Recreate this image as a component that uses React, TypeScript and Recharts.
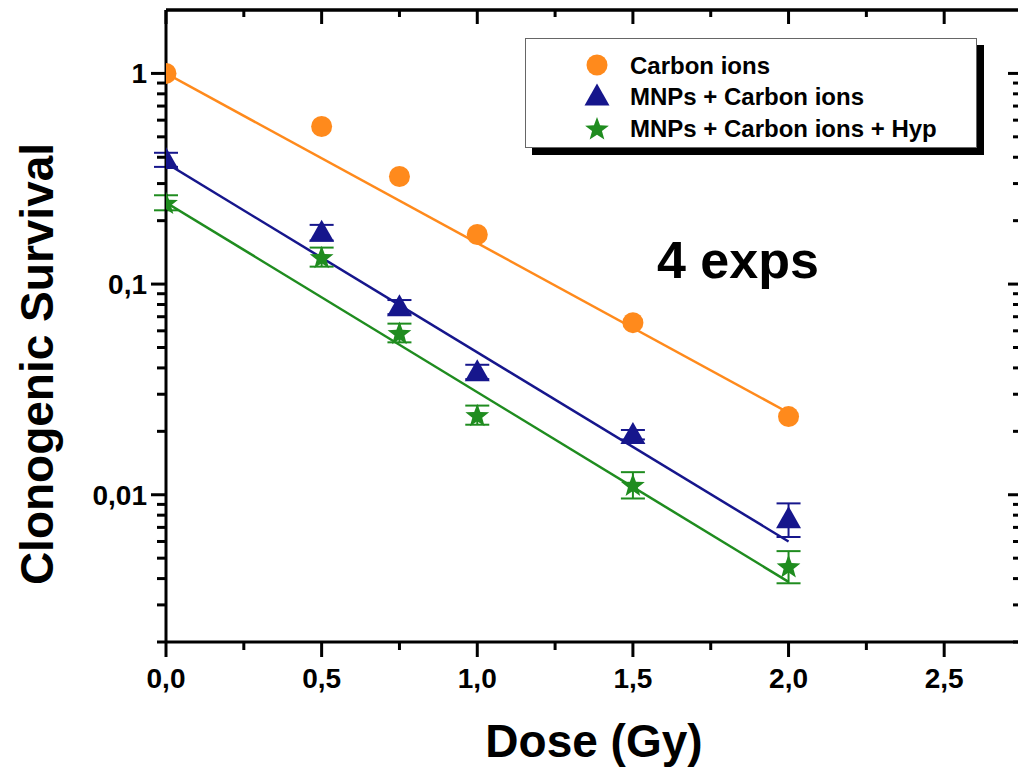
import React from 'react';
import { ComposedChart, Line, Scatter, XAxis, YAxis, ErrorBar, Legend, ReferenceLine } from 'recharts';

const FONT = '"Liberation Sans", Arial, Helvetica, sans-serif';
const ORANGE = '#ff8a1c';
const BLUE = '#16168c';
const GREEN = '#1f8c1f';

// ---- data ----
const doses = [0, 0.5, 0.75, 1.0, 1.5, 2.0];
const carbonIons = [1.0, 0.56, 0.324, 0.172, 0.0656, 0.0235];
const mnpsCarbon = [0.39, 0.176, 0.078, 0.0384, 0.0193, 0.0077];
const mnpsCarbonErr = [0.03, 0.015, 0.006, 0.003, 0.001, 0.0014];
const mnpsHyp = [0.244, 0.135, 0.0589, 0.024, 0.0112, 0.0046];
const mnpsHypErr = [0.02, 0.014, 0.006, 0.0025, 0.0016, 0.0008];

const fitDoses = [0, 2];
const carbonFit = [1.0, 0.0245];
const mnpsCarbonFit = [0.375, 0.006];
const mnpsHypFit = [0.244, 0.00386];

const seriesNames = ['Carbon ions', 'MNPs + Carbon ions', 'MNPs + Carbon ions + Hyp'];

const xMajorTicks = [0, 0.5, 1, 1.5, 2, 2.5];
const xTickLabels = ['0,0', '0,5', '1,0', '1,5', '2,0', '2,5'];
const xMinorTicks = [0.25, 0.75, 1.25, 1.75, 2.25];
const yMajorTicks = [0.01, 0.1, 1];
const yTickLabels = ['0,01', '0,1', '1'];
const yMinorTicks = [
  0.002, 0.003, 0.004, 0.005, 0.006, 0.007, 0.008, 0.009,
  0.02, 0.03, 0.04, 0.05, 0.06, 0.07, 0.08, 0.09,
  0.2, 0.3, 0.4, 0.5, 0.6, 0.7, 0.8, 0.9,
];
const xDomain = [0, 2.75];
const yDomain = [0.002, 2];
const expText = '4 exps';
const xTitle = 'Dose (Gy)';
const yTitle = 'Clonogenic Survival';

// ---- derived tables ----
const carbonData = doses.map((d, i) => ({ x: d, y: carbonIons[i] }));
const mkErr = (ys: number[], errs: number[]) => doses.map((d, i) => ({ x: d, y: ys[i], err: errs[i] }));
const mnpsData = mkErr(mnpsCarbon, mnpsCarbonErr);
const hypData = mkErr(mnpsHyp, mnpsHypErr);
const mkFit = (ys: number[]) => fitDoses.map((d, i) => ({ x: d, y: ys[i] }));
const xTicksAll = [...xMajorTicks, ...xMinorTicks].sort((a, b) => a - b);
const yTicksAll = [...yMajorTicks, ...yMinorTicks].sort((a, b) => a - b);

const findIdx = (v: number, arr: number[]) =>
  arr.findIndex((m) => (m === 0 ? Math.abs(v) < 1e-9 : Math.abs(m - v) <= 1e-6 * Math.abs(m)));

const textStyle = { fontFamily: FONT, fontWeight: 700 as const, fill: '#000' };

// ---- markers ----
const circlePath = (cx: number, cy: number) => <circle cx={cx} cy={cy} r={10.5} fill={ORANGE} />;
const trianglePath = (cx: number, cy: number) => (
  <polygon points={`${cx},${cy - 12.5} ${cx - 12.5},${cy + 9.5} ${cx + 12.5},${cy + 9.5}`} fill={BLUE} />
);
const starPath = (cx: number, cy: number) => {
  const pts: string[] = [];
  for (let k = 0; k < 10; k++) {
    const r = k % 2 === 0 ? 12.5 : 5.2;
    const a = -Math.PI / 2 + (k * Math.PI) / 5;
    pts.push(`${cx + r * Math.cos(a)},${cy + 1.5 + r * Math.sin(a)}`);
  }
  return <polygon points={pts.join(' ')} fill={GREEN} />;
};

const CircleShape = (p: any) => <g>{circlePath(p.cx, p.cy)}</g>;
const TriangleShape = (p: any) => <g>{trianglePath(p.cx, p.cy)}</g>;
const StarShape = (p: any) => <g>{starPath(p.cx, p.cy)}</g>;

// ---- ticks ----
const BottomTick = (p: any) => {
  const i = findIdx(p.payload.value, xMajorTicks);
  const major = i >= 0;
  return (
    <g>
      <line x1={p.x} y1={p.y} x2={p.x} y2={p.y + (major ? 15 : 8)} stroke="#000" strokeWidth={3} />
      {major && (
        <text x={p.x} y={p.y + 46} textAnchor="middle" fontSize={28} style={textStyle}>
          {xTickLabels[i]}
        </text>
      )}
    </g>
  );
};
const TopTick = (p: any) => {
  const major = findIdx(p.payload.value, xMajorTicks) >= 0;
  return <line x1={p.x} y1={p.y} x2={p.x} y2={p.y + (major ? 14 : 7)} stroke="#000" strokeWidth={3} />;
};
// tick marks + labels of the left axis (outward)
const LeftTick = (p: any) => {
  const i = findIdx(p.payload.value, yMajorTicks);
  const major = i >= 0;
  const len = major ? 15 : 9;
  return (
    <g>
      <rect x={p.x - len} y={p.y - 1.5} width={len} height={3} fill="#000" />
      <text x={p.x - 19} y={p.y + 10} textAnchor="end" fontSize={28} style={textStyle}>
        {major ? yTickLabels[i] : '\u00a0'}
      </text>
    </g>
  );
};
const RightTick = (p: any) => {
  const major = findIdx(p.payload.value, yMajorTicks) >= 0;
  return <line x1={p.x} y1={p.y} x2={p.x - (major ? 14 : 9)} y2={p.y} stroke="#000" strokeWidth={3} />;
};

// ---- titles ----
const YTitleLabel = (p: any) => {
  const vb = p.viewBox || { x: 0, y: 0, width: 0, height: 0 };
  const x = vb.x + 53;
  const y = vb.y + vb.height / 2 + 38;
  return (
    <text x={x} y={y} transform={`rotate(-90 ${x} ${y})`} textAnchor="middle" fontSize={46} style={textStyle}>
      {yTitle}
    </text>
  );
};
const XTitleLabel = (p: any) => {
  const vb = p.viewBox || { x: 0, y: 0, width: 0, height: 0 };
  return (
    <text x={vb.x + vb.width / 2} y={vb.y + 115} textAnchor="middle" fontSize={46} style={textStyle}>
      {xTitle}
    </text>
  );
};

// ---- legend ----
const LegendBox = () => {
  const markers = [circlePath, trianglePath, starPath];
  const rowsY = [26, 57, 89];
  return (
    <div
      style={{
        width: 452,
        height: 110,
        boxSizing: 'border-box',
        border: '1.5px solid #666',
        background: '#fff',
        boxShadow: '7px 7px 0 0 #000',
      }}
    >
      <svg width={449} height={107} style={{ display: 'block' }}>
        {seriesNames.map((n, i) => (
          <g key={n}>
            {markers[i](71, rowsY[i])}
            <text x={104} y={rowsY[i] + 8.5} fontSize={24} style={textStyle}>
              {n}
            </text>
          </g>
        ))}
      </svg>
    </div>
  );
};

const axisLineStyle = { stroke: '#000', strokeWidth: 3 };

export default function App() {
  return (
    <div style={{ position: 'absolute', left: 0, top: 0, width: 1018, height: 773, overflow: 'hidden', background: '#fff' }}>
      <ComposedChart width={1030} height={773} margin={{ top: 9, right: 7, bottom: 0, left: 0 }}>
        <XAxis
          dataKey="x"
          type="number"
          domain={xDomain}
          allowDataOverflow
          ticks={xTicksAll}
          interval={0}
          tick={BottomTick}
          tickLine={false}
          tickSize={0}
          tickMargin={0}
          height={131}
          axisLine={axisLineStyle}
          label={{ value: xTitle, content: XTitleLabel }}
        />
        <XAxis
          xAxisId="top"
          orientation="top"
          dataKey="x"
          type="number"
          domain={xDomain}
          allowDataOverflow
          ticks={xTicksAll}
          interval={0}
          tick={TopTick}
          tickLine={false}
          tickSize={0}
          tickMargin={0}
          height={1}
          axisLine={axisLineStyle}
        />
        <YAxis
          dataKey="y"
          type="number"
          scale="log"
          domain={yDomain}
          allowDataOverflow
          ticks={yTicksAll}
          interval={0}
          tick={LeftTick}
          tickLine={false}
          tickSize={0}
          tickMargin={0}
          width={166}
          axisLine={axisLineStyle}
          label={{ value: yTitle, content: YTitleLabel }}
        />
        <YAxis
          yAxisId="right"
          orientation="right"
          dataKey="y"
          type="number"
          scale="log"
          domain={yDomain}
          allowDataOverflow
          ticks={yTicksAll}
          interval={0}
          tick={RightTick}
          tickLine={false}
          tickSize={0}
          tickMargin={0}
          width={1}
          axisLine={axisLineStyle}
        />
        <ReferenceLine y={yDomain[1]} stroke="#000" strokeWidth={3} ifOverflow="visible" />
        <Legend
          layout="vertical"
          align="center"
          verticalAlign="middle"
          content={LegendBox}
          wrapperStyle={{ left: 525, top: 38, width: 460, height: 120 }}
        />
        <Line data={mkFit(carbonFit)} dataKey="y" type="linear" stroke={ORANGE} strokeWidth={2.5} dot={false} activeDot={false} legendType="none" isAnimationActive={false} />
        <Line data={mkFit(mnpsCarbonFit)} dataKey="y" type="linear" stroke={BLUE} strokeWidth={2.5} dot={false} activeDot={false} legendType="none" isAnimationActive={false} />
        <Line data={mkFit(mnpsHypFit)} dataKey="y" type="linear" stroke={GREEN} strokeWidth={2.5} dot={false} activeDot={false} legendType="none" isAnimationActive={false} />
        <Scatter name={seriesNames[0]} data={carbonData} dataKey="y" shape={CircleShape} isAnimationActive={false} />
        <Scatter name={seriesNames[1]} data={mnpsData} dataKey="y" shape={TriangleShape} isAnimationActive={false}>
          <ErrorBar dataKey="err" direction="y" width={12} stroke={BLUE} strokeWidth={2} />
        </Scatter>
        <Scatter name={seriesNames[2]} data={hypData} dataKey="y" shape={StarShape} isAnimationActive={false}>
          <ErrorBar dataKey="err" direction="y" width={12} stroke={GREEN} strokeWidth={2} />
        </Scatter>
      </ComposedChart>
      <svg width={1018} height={773} style={{ position: 'absolute', left: 0, top: 0, pointerEvents: 'none' }}>
        <text x={657} y={278} fontSize={52} style={textStyle}>
          {expText}
        </text>
      </svg>
    </div>
  );
}
